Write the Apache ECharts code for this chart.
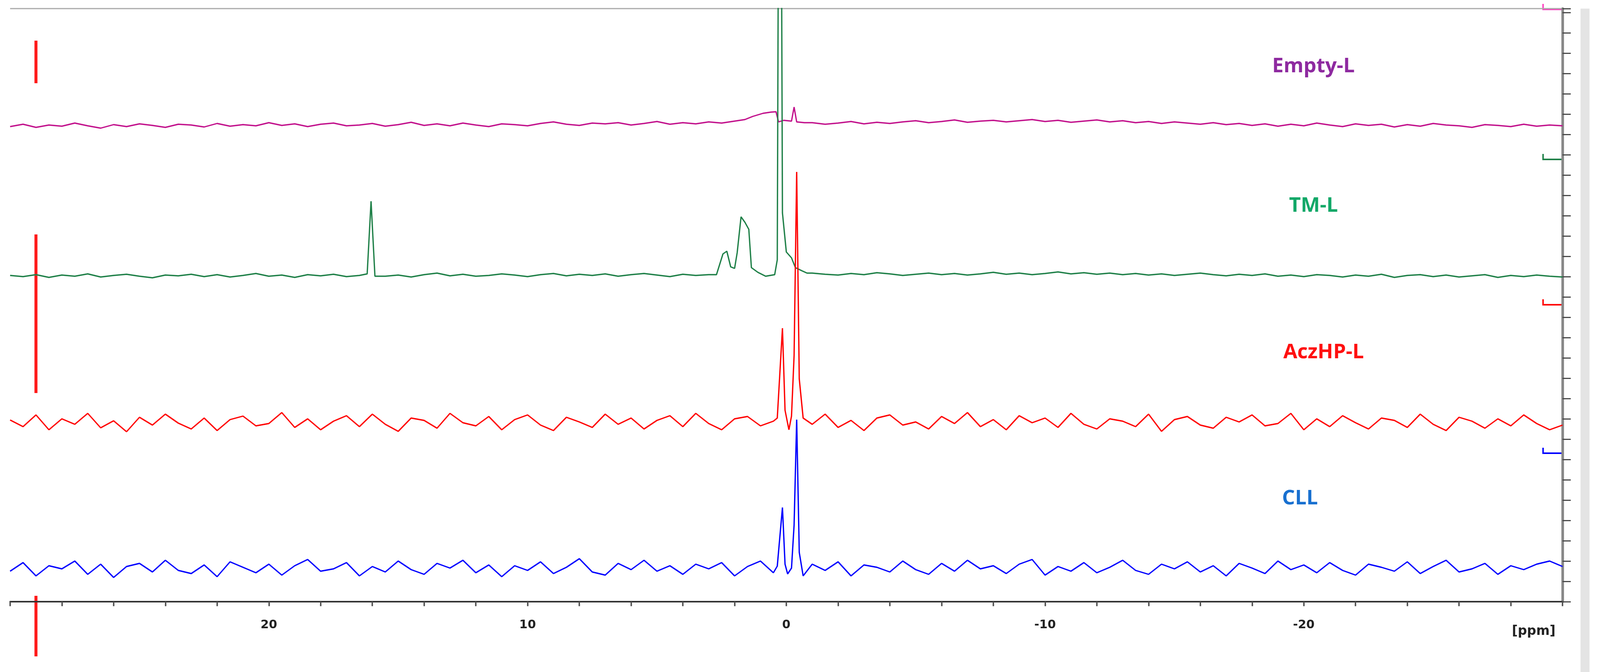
<!DOCTYPE html>
<html lang="en">
<head>
    <meta charset="UTF-8">
    <title>NMR spectra</title>
    <style>
        html, body { margin: 0; padding: 0; width: 100%; height: 100%; overflow: hidden; background: #fff; }
        #main { width: 100vw; height: 100vh; }
    </style>
</head>
<body>
    <div id="main"></div>
    <script src="https://cdn.jsdelivr.net/npm/echarts@6/dist/echarts.min.js"></script>
    <script>
        // ppm sampling of the traces (30 ... -30, step 0.5)
        var ppmStart = 30, ppmStep = -0.5;

        var names = ['Empty-L', 'TM-L', 'AczHP-L', 'CLL'];
        var colors = ['#c2128c', '#1f8048', '#ff0000', '#0000ff'];
        var labelColors = ['#8e2aa0', '#12a868', '#ff1010', '#1870d0'];
        var baselines = [1220, 835, 460, 86];

        var emptyNoise = [-4,2,-6,0,-3,5,-2,-8,1,-4,3,-1,-6,2,0,-5,4,-3,1,-2,
            6,-1,3,-4,2,5,-2,0,4,-3,1,7,-1,3,-2,5,0,-4,3,1,
            -2,4,8,2,-1,5,3,6,0,4,9,2,6,3,8,5,10,7,12,9,
            8,4,6,2,5,9,3,7,4,8,11,6,9,13,7,10,12,8,11,14,
            9,12,7,10,13,8,11,6,9,4,8,5,2,6,1,4,-1,3,-3,2,
            -2,5,0,-4,3,-1,2,-5,1,-3,4,0,-2,-6,1,-1,-4,2,-3,0,-2];
        var tmNoise = [0,-3,2,-5,1,-2,4,-4,0,3,-2,-6,1,-1,3,-3,2,-4,0,5,
            -2,1,-5,2,-1,3,-3,0,4,-2,1,-4,2,6,-1,3,-2,0,4,1,
            -3,2,5,-1,3,0,4,-2,2,5,1,-3,3,0,2,-4,1,-2,3,-1,
            4,2,6,3,1,5,2,7,4,0,3,6,2,5,1,4,8,3,6,2,
            5,9,4,7,3,6,2,5,1,4,0,3,6,2,-1,3,0,4,-2,1,
            -3,2,0,-4,1,-2,3,-5,0,2,-3,1,-4,-1,2,-5,0,-3,1,-2,-4];
        var aczNoise = [5,-12,18,-20,8,-6,22,-15,3,-25,12,-8,20,-3,-18,10,-22,6,15,-10,
            -4,24,-14,8,-20,2,16,-12,20,-6,-24,10,4,-16,22,-2,-10,14,-20,6,
            18,-8,-22,12,0,-14,20,-6,10,-18,4,16,-12,22,-4,-20,8,14,-10,2,
            -16,12,-6,20,-14,4,-22,10,18,-8,0,-18,14,-4,24,-12,6,-20,16,-2,
            10,-14,22,-6,-18,8,2,-12,20,-24,6,14,-8,-16,12,0,18,-10,-4,22,
            -20,8,-12,16,-2,-18,10,4,-14,20,-6,-22,12,2,-16,8,-10,18,-4,-20,-8];
        var cllNoise = [-8,14,-20,6,-2,18,-16,10,-24,4,12,-10,20,-6,-14,8,-22,16,2,-12,
            10,-18,6,22,-8,-2,14,-20,4,-10,18,-4,-16,12,0,20,-12,8,-22,6,
            -6,16,-14,2,24,-10,-18,12,-4,20,-8,6,-16,10,-2,14,-20,4,18,-12,
            0,-14,10,-6,16,-20,8,2,-10,18,-4,-16,12,-8,20,-2,6,-14,10,22,
            -18,4,-8,14,-12,2,20,-6,-16,10,-2,16,-10,6,-20,12,0,-14,18,-4,
            8,-12,14,-6,-18,10,2,-8,16,-14,4,20,-10,-2,12,-16,6,-4,10,18,4];

        // peak regions: [ppm, height above baseline]
        var emptyPeaks = [[1.6,14],[1.3,22],[0.9,30],[0.6,33],[0.4,34],[0.3,8],[0.1,12],[-0.2,10],[-0.3,46],[-0.4,8],[-0.7,6]];
        var tmPeaks = [[16.2,4],[16.05,190],[15.9,-2],
            [2.7,2],[2.45,55],[2.3,62],[2.15,22],[2.0,18],[1.9,58],[1.75,150],[1.6,136],[1.45,118],[1.35,20],[1.1,8],[0.8,-2],
            [0.45,2],[0.35,40],[0.25,2000],[0.15,160],[0.0,60],[-0.2,45],[-0.35,20],[-0.6,12],[-0.8,6]];
        var aczPeaks = [[0.35,10],[0.15,240],[0.05,30],[-0.1,-20],[-0.2,15],[-0.3,170],[-0.4,640],[-0.5,110],[-0.65,10]];
        var cllPeaks = [[0.35,5],[0.15,155],[0.05,10],[-0.05,-15],[-0.2,0],[-0.3,110],[-0.4,380],[-0.5,40],[-0.65,-20]];

        var noises = [emptyNoise, tmNoise, aczNoise, cllNoise];
        var peaks = [emptyPeaks, tmPeaks, aczPeaks, cllPeaks];

        function buildTrace(i) {
            var pk = peaks[i];
            var pts = [];
            noises[i].forEach(function (v, k) {
                var x = ppmStart + k * ppmStep;
                // drop base samples that fall inside a peak window
                var inside = pk.some(function (p, j) {
                    return j < pk.length - 1 && x <= p[0] && x >= pk[j + 1][0] && (p[0] - pk[j + 1][0]) < 0.6;
                });
                if (!inside) pts.push([x, baselines[i] + v]);
            });
            pk.forEach(function (p) { pts.push([p[0], baselines[i] + p[1]]); });
            pts.sort(function (a, b) { return b[0] - a[0]; });
            return pts;
        }

        var myChart = echarts.init(document.getElementById('main'));
        // layout designed on a 4272 x 1720 canvas, scaled to the real size
        var sx = myChart.getWidth() / 4272, sy = myChart.getHeight() / 1720;
        var fs = Math.min(sx, sy);

        var series = names.map(function (n, i) {
            return {
                name: n, type: 'line', data: buildTrace(i), showSymbol: false,
                lineStyle: { color: colors[i], width: 3.5 * fs }, animation: false, clip: true
            };
        });

        var labelPos = [[3507, 170], [3507, 527], [3534, 902], [3471, 1276]];
        var graphics = names.map(function (n, i) {
            return { type: 'text', x: labelPos[i][0] * sx, y: labelPos[i][1] * sy,
                style: { text: n, fill: labelColors[i], font: 'bold ' + Math.round(54 * fs) + 'px "Open Sans", sans-serif', textAlign: 'center', textVerticalAlign: 'middle' } };
        });
        // red side markers
        [[104, 213], [600, 1006], [1525, 1680]].forEach(function (s) {
            graphics.push({ type: 'rect', shape: { x: 92 * sx, y: s[0] * sy, width: 8 * sx, height: (s[1] - s[0]) * sy }, style: { fill: '#ff1a1a' } });
        });
        // right hand brackets
        var bracketColors = ['#ff40c0', '#1f8048', '#ff0000', '#0000ff'];
        [[24, 78], [408, 420], [780, 790], [1160, 1170]].forEach(function (b, i) {
            graphics.push({ type: 'polyline', shape: { points: [[4120 * sx, (b[0] - 14) * sy], [4120 * sx, b[0] * sy], [4172 * sx, b[0] * sy]] },
                style: { stroke: bracketColors[i], lineWidth: 4 * fs, fill: null } });
        });
        graphics.push({ type: 'rect', shape: { x: 4220 * sx, y: 22 * sy, width: 24 * sx, height: 1698 * sy }, style: { fill: '#e4e4e4' } });
        graphics.push({ type: 'text', x: 4095 * sx, y: 1616 * sy,
            style: { text: '[ppm]', fill: '#222', font: 'bold ' + Math.round(34 * fs) + 'px "DejaVu Sans", sans-serif', textAlign: 'center', textVerticalAlign: 'middle' } });
        graphics.push({ type: 'line', shape: { x1: 27 * sx, y1: 22 * sy, x2: 4172 * sx, y2: 22 * sy }, style: { stroke: '#aaa', lineWidth: 3 * fs } });

        var option = {
            backgroundColor: '#fff',
            animation: false,
            grid: { left: 27 * sx, right: 100 * sx, top: 22 * sy, bottom: 180 * sy },
            xAxis: {
                type: 'value', inverse: true, min: -30, max: 30, interval: 2,
                axisLine: { lineStyle: { color: '#333', width: 4 * fs } },
                axisTick: { length: 12 * fs, lineStyle: { color: '#555', width: 4 * fs } },
                splitLine: { show: false },
                axisLabel: {
                    margin: 46 * fs, color: '#222', fontSize: 32 * fs, fontWeight: 'bold', fontFamily: 'DejaVu Sans',
                    formatter: function (v) { return (v % 10 === 0 && Math.abs(v) < 30) ? String(v) : ''; }
                }
            },
            yAxis: [
                { type: 'value', min: 0, max: 1518, show: false },
                {
                    type: 'value', position: 'right', min: 0, max: 1518, interval: 52,
                    axisLine: { show: true, lineStyle: { color: '#888', width: 7 * fs } },
                    axisTick: { show: true, inside: false, length: 22 * fs, lineStyle: { color: '#444', width: 3 * fs } },
                    axisLabel: { show: false }, splitLine: { show: false }
                }
            ],
            series: series,
            graphic: graphics
        };
        myChart.setOption(option);
    </script>
</body>
</html>
